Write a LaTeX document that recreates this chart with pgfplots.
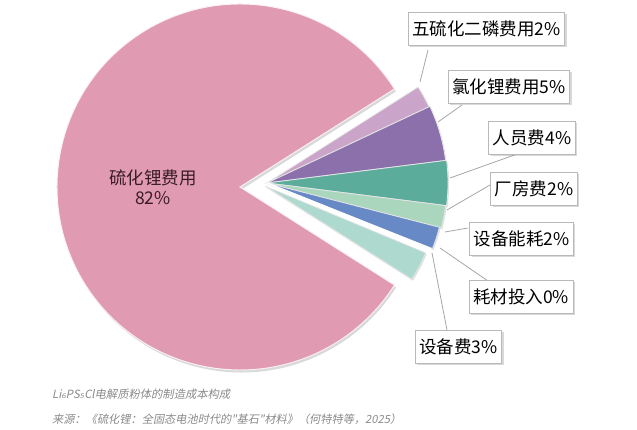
\documentclass[border=0pt]{standalone}
\usepackage{pgfplots}
\pgfplotsset{compat=1.18}
\usepackage{fontspec}
\setmainfont{Noto Sans CJK SC}
\newfontfamily\capfont{Noto Sans CJK SC}[FakeSlant=0.2]
\newfontfamily\subfont{DejaVu Sans}[FakeSlant=0.2]
\usetikzlibrary{shadows}
\definecolor{pinkc}{HTML}{E09AB1}
\definecolor{lilac}{HTML}{CBA4CA}
\definecolor{purp}{HTML}{8C70AB}
\definecolor{teal1}{HTML}{5CAC9C}
\definecolor{lgreen}{HTML}{A9D6BD}
\definecolor{blue1}{HTML}{6789C6}
\definecolor{mint}{HTML}{ADD9CF}
\definecolor{txtdark}{HTML}{3A1C28}
\definecolor{capgray}{HTML}{8A8A8A}
\tikzset{slc/.style={draw=white!80!gray, line width=0.8pt,
  drop shadow={opacity=0.25, shadow xshift=1pt, shadow yshift=-1.5pt}},
  lbl/.style={draw=gray!55, fill=white, line width=0.8pt,
  inner xsep=4pt, minimum height=33pt, font=\fontsize{17.5}{20}\selectfont,
  drop shadow={opacity=0.3, shadow xshift=2pt, shadow yshift=-2pt}}}
\begin{document}
\begin{tikzpicture}
\begin{axis}[scale only axis, width=637pt, height=430pt,
  xmin=0, xmax=637, ymin=0, ymax=430, hide axis, clip=false]
\addplot[draw=none] coordinates {(0,0) (637,430)};
% main slice 82%
\fill[pinkc, draw=white!85!pinkc, line width=1pt,
  drop shadow={opacity=0.3, shadow xshift=1.5pt, shadow yshift=-2.5pt}]
  (axis cs:240,243) -- ++(32.4:183pt) arc[start angle=32.4, end angle=327.6, radius=183pt] -- cycle;
% small slices (2,5,4,2,2,0,3 %)
\fill[lilac, slc]  (axis cs:267,247) -- ++(25.2:179pt)  arc[start angle=25.2,  end angle=32.4,  radius=179pt] -- cycle;
\fill[purp, slc]   (axis cs:267,247) -- ++(7.2:180pt)   arc[start angle=7.2,   end angle=25.2,  radius=180pt] -- cycle;
\fill[teal1, slc]  (axis cs:267,247) -- ++(-7.2:181pt)  arc[start angle=-7.2,  end angle=7.2,   radius=181pt] -- cycle;
\fill[lgreen, slc] (axis cs:267,247) -- ++(-14.4:180pt) arc[start angle=-14.4, end angle=-7.2,  radius=180pt] -- cycle;
\fill[blue1, slc]  (axis cs:267,247) -- ++(-21.6:178pt) arc[start angle=-21.6, end angle=-14.4, radius=178pt] -- cycle;
\fill[mint, slc]   (axis cs:265,244) -- ++(-32.4:174pt) arc[start angle=-32.4, end angle=-22.6, radius=174pt] -- cycle;
\draw[white, line width=1.6pt] (axis cs:267,247) -- ++(-21.9:177pt);
% leader lines
\draw[gray!70, line width=0.8pt] (axis cs:420,348) -- (axis cs:428,380);
\draw[gray!70, line width=0.8pt] (axis cs:438,308) -- (axis cs:462,325);
\draw[gray!70, line width=0.8pt] (axis cs:450,252) -- (axis cs:520,277);
\draw[gray!70, line width=0.8pt] (axis cs:447,220) -- (axis cs:490,245);
\draw[gray!70, line width=0.8pt] (axis cs:445,198) -- (axis cs:468,202);
\draw[gray!70, line width=0.8pt] (axis cs:440,182) -- (axis cs:488,149);
\draw[gray!70, line width=0.8pt] (axis cs:432,177) -- (axis cs:447,100);
% label boxes
\node[lbl] at (axis cs:486.5,401) {五硫化二磷费用2\%};
\node[lbl] at (axis cs:509,343.5) {氯化锂费用5\%};
\node[lbl] at (axis cs:532,292.5) {人员费4\%};
\node[lbl] at (axis cs:534,241) {厂房费2\%};
\node[lbl] at (axis cs:521.5,191) {设备能耗2\%};
\node[lbl] at (axis cs:521,133.5) {耗材投入0\%};
\node[lbl] at (axis cs:458.5,83.5) {设备费3\%};
\node[txtdark, align=center, font=\fontsize{17.5}{20}\selectfont] at (axis cs:153,243) {硫化锂费用\\82\%};
% caption
\node[anchor=west, capgray, font=\capfont\fontsize{11.3}{13}\selectfont, inner sep=0pt] at (axis cs:52,36)
  {Li{\subfont ₆}PS{\subfont ₅}Cl电解质粉体的制造成本构成};
\node[anchor=west, capgray, font=\capfont\fontsize{11.2}{13}\selectfont, inner sep=0pt] at (axis cs:52,11)
  {来源：《硫化锂：全固态电池时代的"基石"材料》（何特特等，2025）};
\end{axis}
\pgfresetboundingbox
\useasboundingbox (current axis.south west) rectangle (current axis.north east);
\end{tikzpicture}
\end{document}
